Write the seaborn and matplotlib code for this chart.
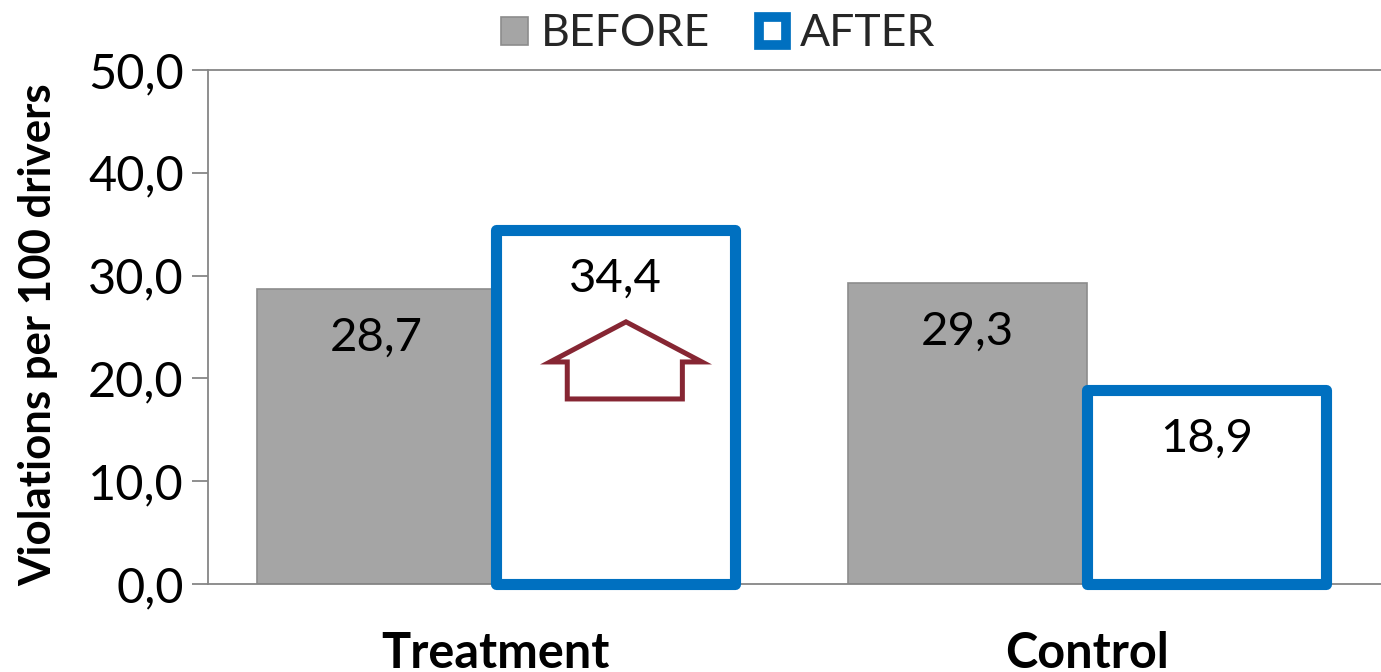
import matplotlib
matplotlib.use("Agg")
import matplotlib.pyplot as plt
from matplotlib.patches import Patch, Polygon
from matplotlib.ticker import FuncFormatter, MultipleLocator
import seaborn as sns
import pandas as pd

# Data
groups = ["Treatment", "Control"]
periods = ["BEFORE", "AFTER"]
before_values = [28.7, 29.3]
after_values = [34.4, 18.9]

df = pd.DataFrame({
    "group": groups * 2,
    "period": [periods[0]] * 2 + [periods[1]] * 2,
    "value": before_values + after_values,
})

sns.set_theme(style="white")
plt.rcParams["font.family"] = ["Lato", "DejaVu Sans"]

GRAY = "#A5A5A5"
GRAY_EDGE = "#8C8C8C"
BLUE = "#0070C0"
AXIS = "#868686"
ARROW = "#862633"

fig = plt.figure(figsize=(13.81, 6.72), dpi=100)
ax = fig.add_axes([208 / 1381, 88 / 672, 1174.5 / 1381, 514 / 672])

sns.barplot(data=df, x="group", y="value", hue="period", order=groups,
            hue_order=periods, width=0.808, ax=ax, legend=False,
            palette=[GRAY, "white"])

before_bars, after_bars = ax.containers[0], ax.containers[1]
for bar in before_bars:
    bar.set_facecolor(GRAY)
    bar.set_edgecolor(GRAY_EDGE)
    bar.set_linewidth(1.2)
for bar in after_bars:
    bar.set_facecolor("white")
    bar.set_edgecolor(BLUE)
    bar.set_linewidth(8)
    bar.set_joinstyle("round")
    bar.set_clip_on(False)
    bar.set_zorder(3)

ax.set_xlim(-0.487, 1.5)
ax.set_ylim(0, 50)
ax.yaxis.set_major_locator(MultipleLocator(10))
ax.yaxis.set_major_formatter(FuncFormatter(lambda v, p: f"{v:.1f}".replace(".", ",")))

# Value labels inside each bar near its top
for container in ax.containers:
    for bar in container:
        h = bar.get_height()
        ax.annotate(f"{h:.1f}".replace(".", ","),
                    (bar.get_x() + bar.get_width() / 2, h),
                    xytext=(0, -35), textcoords="offset points",
                    ha="center", va="center", fontsize=34, color="black", zorder=5)

# Outlined up-arrow inside the Treatment AFTER bar
tb = after_bars[0]
cx = tb.get_x() + tb.get_width() * 0.545
w = tb.get_width()
top = tb.get_height()
arrow_pts = [
    (cx, top - 8.9),
    (cx + 0.318 * w, top - 12.8),
    (cx + 0.236 * w, top - 12.8),
    (cx + 0.236 * w, top - 16.4),
    (cx - 0.246 * w, top - 16.4),
    (cx - 0.246 * w, top - 12.8),
    (cx - 0.318 * w, top - 12.8),
]
ax.add_patch(Polygon(arrow_pts, closed=True, facecolor="white",
                     edgecolor=ARROW, linewidth=3.6, joinstyle="miter", zorder=4))

# Axes styling
for side in ["left", "bottom", "top"]:
    ax.spines[side].set_visible(True)
    ax.spines[side].set_color(AXIS)
    ax.spines[side].set_linewidth(1.3)
ax.spines["right"].set_visible(False)
ax.spines["top"].set_zorder(0)

ax.tick_params(axis="y", which="major", direction="out", length=11.5, width=1.3,
               color=AXIS, left=True, labelsize=35, pad=6, labelcolor="black")
ax.tick_params(axis="x", length=0, pad=34)
ax.set_xlabel("")
ax.set_ylabel("")
for lbl in ax.get_xticklabels():
    lbl.set_fontsize(35)
    lbl.set_fontweight("bold")
    lbl.set_color("black")

fig.text(38 / 1381, 1 - 335 / 672, "Violations per 100 drivers", rotation=90,
         ha="center", va="center", fontsize=31.5, fontweight="bold", color="black")

handles = [
    Patch(facecolor=GRAY, edgecolor=GRAY_EDGE, linewidth=1.2, label=periods[0]),
    Patch(facecolor="white", edgecolor=BLUE, linewidth=7, joinstyle="round", label=periods[1]),
]
fig.legend(handles=handles, loc="center", bbox_to_anchor=(718 / 1381, 1 - 34 / 672),
           ncol=2, frameon=False, fontsize=32, handlelength=0.6, handleheight=0.6,
           handletextpad=0.3, columnspacing=1.1, borderaxespad=0, borderpad=0)

fig.savefig("out.png", dpi=100, facecolor="white")
